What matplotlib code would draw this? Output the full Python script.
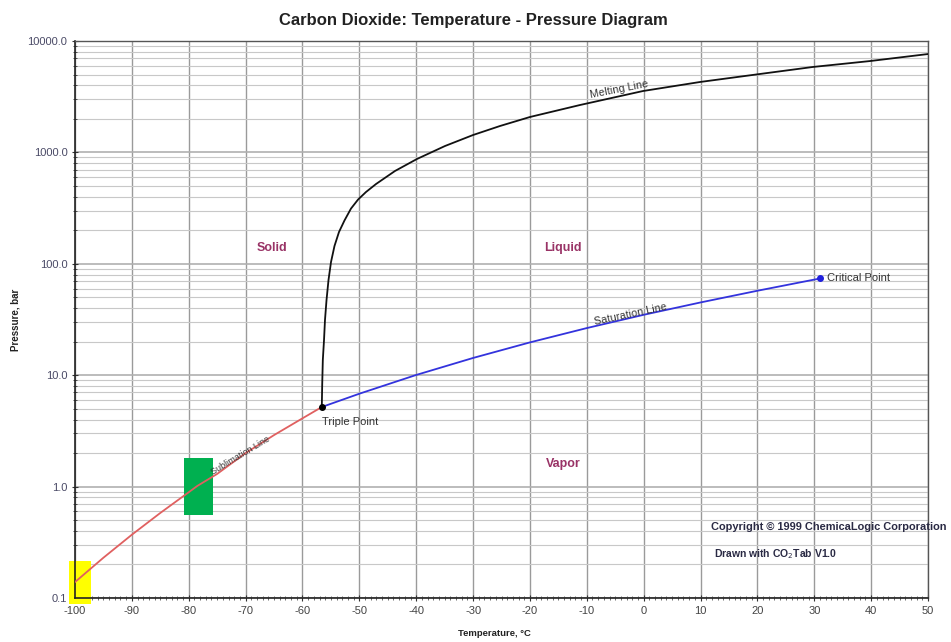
import matplotlib
matplotlib.use("Agg")
import matplotlib.pyplot as plt
from matplotlib.ticker import FixedLocator, NullFormatter, MultipleLocator
from matplotlib.patches import Rectangle

plt.rcParams['font.family'] = ['Liberation Sans', 'DejaVu Sans']

# ---- data ----
sub_T = [-100, -95, -90, -85, -80, -78.5, -75, -70, -65, -60, -56.6]
sub_P = [0.139, 0.23, 0.37, 0.58, 0.89, 1.013, 1.3, 2.0, 2.9, 4.1, 5.18]

sat_T = [-56.6, -50, -40, -30, -20, -10, 0, 10, 20, 30, 31.0]
sat_P = [5.18, 6.82, 10.05, 14.28, 19.70, 26.49, 34.85, 44.99, 57.29, 72.14, 73.8]

melt_T = [-56.6, -56.53, -56.42, -56.21, -56.04, -55.77, -55.42, -54.98, -54.37,
          -53.58, -52.61, -51.47, -50.23, -48.83, -47.07, -43.73, -39.86, -34.94,
          -30.01, -25.26, -19.98, -11.2, -0.12, 9.9, 20.46, 29.78, 39.8, 50.0]
melt_P = [5.18, 8.2, 13.7, 20.7, 31.3, 47.3, 71.6, 103.8, 144.5,
          192.8, 245, 313, 377, 441, 520, 681, 873, 1141,
          1432, 1726, 2080, 2663, 3556, 4285, 5058, 5848, 6607, 7638]

triple = (-56.6, 5.18)
critical = (31.0, 73.8)

x_ticks = [-100, -90, -80, -70, -60, -50, -40, -30, -20, -10, 0, 10, 20, 30, 40, 50]
y_ticks = [0.1, 1.0, 10.0, 100.0, 1000.0, 10000.0]
y_ticklabels = ['0.1', '1.0', '10.0', '100.0', '1000.0', '10000.0']

regions = [('Solid', -65.4, 139), ('Liquid', -14.2, 139), ('Vapor', -14.2, 1.58)]

# ---- figure ----
fig = plt.figure(figsize=(9.51, 6.42), dpi=100)
ax = fig.add_axes([75/951, 1 - 598/642, (928-75)/951, (598-41)/642])
ax.set_yscale('log')
ax.set_xlim(-100, 50)
ax.set_ylim(0.1, 10000)

ax.xaxis.set_major_locator(FixedLocator(x_ticks))
ax.xaxis.set_minor_locator(MultipleLocator(1))
ax.yaxis.set_major_locator(FixedLocator(y_ticks))
minors = [m * 10**e for e in range(-1, 4) for m in range(2, 10)]
ax.yaxis.set_minor_locator(FixedLocator(minors))
ax.yaxis.set_minor_formatter(NullFormatter())
ax.set_yticklabels(y_ticklabels)
ax.set_xticklabels([str(t) for t in x_ticks])

ax.grid(True, which='major', axis='x', color='#9a9a9a', lw=1.0)
ax.grid(True, which='major', axis='y', color='#b0b0b0', lw=1.2)
ax.grid(True, which='minor', axis='y', color='#c8c8c8', lw=0.8)
ax.set_axisbelow(True)

ax.tick_params(axis='both', which='major', labelsize=8, length=4, direction='inout',
               colors='#333333', labelcolor='#444444')
ax.tick_params(axis='y', which='major', labelcolor='#4a4a66')
ax.tick_params(axis='y', which='minor', length=3, direction='inout', color='#333333')
ax.tick_params(axis='x', which='minor', length=3, direction='inout', color='#555555', width=0.6)
ax.tick_params(axis='x', which='major', pad=4)
for s in ['left', 'bottom']:
    ax.spines[s].set_color('#222222')
    ax.spines[s].set_linewidth(1.2)
for s in ['top', 'right']:
    ax.spines[s].set_color('#555555')
    ax.spines[s].set_linewidth(1.0)

# curves
ax.plot(sub_T, sub_P, color='#e06060', lw=1.3, zorder=3)
ax.plot(sat_T, sat_P, color='#3333dd', lw=1.3, zorder=3)
ax.plot(melt_T, melt_P, color='#111111', lw=1.3, zorder=3)
ax.plot(*triple, 'o', color='black', ms=4, zorder=4)
ax.plot(*critical, 'o', color='#2020dd', ms=4, zorder=4)

# highlight boxes
ax.add_patch(Rectangle((-80.8, 0.56), 5.0, 1.82 - 0.56, facecolor='#00b050',
                       edgecolor='none', zorder=2))
ax.add_patch(Rectangle((-101.1, 0.088), 3.9, 0.216 - 0.088, facecolor='#ffff00',
                       edgecolor='none', zorder=2, clip_on=False))

# annotations
ax.text(-56.5, 3.8, 'Triple Point', fontsize=8, color='#333333', ha='left', va='center')
ax.text(32.3, 75, 'Critical Point', fontsize=8, color='#333333', ha='left', va='center')
ax.text(-4.2, 3350, 'Melting Line', fontsize=7.8, color='#333333', ha='center', va='bottom',
        rotation=11, rotation_mode='anchor')
ax.text(-2.1, 31.5, 'Saturation Line', fontsize=7.8, color='#333333', ha='center', va='bottom',
        rotation=12, rotation_mode='anchor')
ax.text(-70.5, 1.75, 'Sublimation Line', fontsize=6.5, color='#333333', ha='center', va='bottom',
        rotation=31, rotation_mode='anchor')
for name, tx, ty in regions:
    ax.text(tx, ty, name, fontsize=9, color='#993366', fontweight='bold',
            ha='center', va='center')

ax.text(11.8, 0.437, 'Copyright \u00a9 1999 ChemicaLogic Corporation', fontsize=7.9,
        color='#2a2a44', fontweight='bold', ha='left', va='center', clip_on=False)
ax.text(12.3, 0.25, 'Drawn with CO$_2$Tab V1.0', fontsize=7.5,
        color='#2a2a44', fontweight='bold', ha='left', va='center', clip_on=False)

fig.text(473.5/951, 1 - 20/642, 'Carbon Dioxide: Temperature - Pressure Diagram',
         fontsize=12, fontweight='bold', color='#222222', ha='center', va='center')
fig.text(494/951, 1 - 633/642, 'Temperature, \u00b0C', fontsize=6.8, fontweight='bold',
         color='#222222', ha='center', va='center')
fig.text(15/951, 1 - 320/642, 'Pressure, bar', fontsize=7, fontweight='bold',
         color='#222222', ha='center', va='center', rotation=90)

fig.savefig('out.png', dpi=100)
